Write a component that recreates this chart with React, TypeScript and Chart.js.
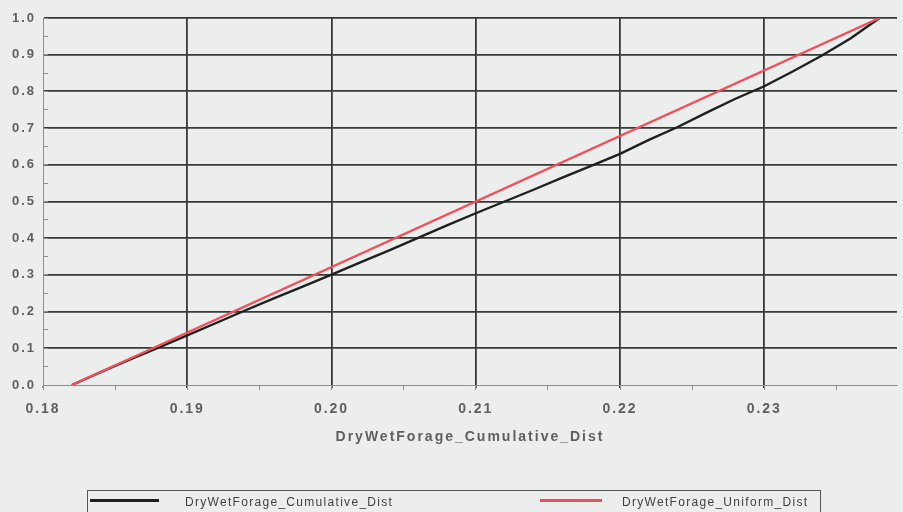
import React, { useEffect, useRef } from "react";
import { Chart, registerables } from "chart.js";

Chart.register(...registerables);

// ---- data ----
const cumulativeX = [
  0.182, 0.184, 0.186, 0.188, 0.19, 0.192, 0.194, 0.196, 0.198, 0.2, 0.202, 0.204, 0.206,
  0.208, 0.21, 0.212, 0.214, 0.216, 0.218, 0.22, 0.222, 0.224, 0.226, 0.228, 0.23, 0.232,
  0.234, 0.236, 0.237, 0.238,
];
const cumulativeY = [
  0, 0.035, 0.069, 0.102, 0.135, 0.169, 0.203, 0.236, 0.268, 0.301, 0.334, 0.367, 0.401,
  0.435, 0.468, 0.5, 0.532, 0.565, 0.597, 0.63, 0.668, 0.703, 0.742, 0.78, 0.814, 0.855,
  0.898, 0.945, 0.973, 1.0,
];
const uniformX = [0.182, 0.238];
const uniformY = [0, 1];

const xMin = 0.18;
const xMax = 0.2392;
const xStep = 0.01;
const xMinorStep = 0.005;
const yMin = 0;
const yMax = 1;
const yStep = 0.1;
const yMinorStep = 0.05;

const seriesNames = ["DryWetForage_Cumulative_Dist", "DryWetForage_Uniform_Dist"];
const xTitle = "DryWetForage_Cumulative_Dist";

const FONT = "'Liberation Sans', Arial, sans-serif";
const BG = "#eceeed";
const GRID = "#363a37";
const AXIS = "#8c8f8d";
const LABEL = "#5e605f";
const BLACK = "#1d211e";
const RED = "#f0505a";

const spacingPlugin = {
  id: "letterSpacing",
  beforeUpdate(chart: any) {
    (chart.ctx as any).letterSpacing = "2px";
  },
  beforeLayout(chart: any) {
    (chart.ctx as any).letterSpacing = "2px";
  },
  beforeDraw(chart: any) {
    (chart.ctx as any).letterSpacing = "2px";
  },
};

export default function App() {
  const ref = useRef<HTMLCanvasElement | null>(null);

  useEffect(() => {
    document.body.style.margin = "0";
    document.body.style.background = BG;
    const canvas = ref.current!;
    const chart = new Chart(canvas, {
      type: "line",
      data: {
        datasets: [
          {
            label: seriesNames[0],
            data: cumulativeX.map((x, i) => ({ x, y: cumulativeY[i] })),
            borderColor: BLACK,
            borderWidth: 2.4,
            pointRadius: 0,
            tension: 0,
            order: 1,
          },
          {
            label: seriesNames[1],
            data: uniformX.map((x, i) => ({ x, y: uniformY[i] })),
            borderColor: RED,
            borderWidth: 2.4,
            pointRadius: 0,
            tension: 0,
            order: 0,
          },
        ],
      },
      options: {
        animation: false,
        responsive: false,
        events: [],
        layout: { padding: { left: 0, top: 18, right: 6, bottom: 62 } },
        plugins: { legend: { display: false }, tooltip: { enabled: false } },
        scales: {
          x: {
            type: "linear",
            position: "bottom",
            weight: 1,
            min: xMin,
            max: xMax,
            afterFit: (s: any) => {
              s.height = 65;
            },
            ticks: {
              stepSize: xStep,
              includeBounds: false,
              autoSkip: false,
              maxRotation: 0,
              padding: 13,
              color: LABEL,
              font: { family: FONT, size: 14, weight: "bold" },
              callback: (v: any) => Number(v).toFixed(2),
            },
            grid: {
              color: (c: any) => (c.index === 0 ? "rgba(0,0,0,0)" : GRID),
              lineWidth: 1.8,
              tickLength: 3,
              tickColor: (c: any) => (c.index === 0 ? AXIS : GRID),
            },
            border: { display: true, color: AXIS, width: 1 },
            title: {
              display: true,
              text: xTitle,
              color: LABEL,
              font: { family: FONT, size: 14, weight: "bold" },
              padding: { top: 0, bottom: 4 },
            },
          },
          x2: {
            type: "linear",
            position: "bottom",
            weight: 0,
            min: xMin,
            max: xMax,
            afterFit: (s: any) => {
              s.height = 0;
            },
            ticks: { stepSize: xMinorStep, includeBounds: false, autoSkip: false, display: false },
            grid: { drawOnChartArea: false, tickLength: 5, tickColor: AXIS, lineWidth: 1 },
            border: { display: false },
          },
          y: {
            type: "linear",
            position: "left",
            weight: 1,
            min: yMin,
            max: yMax,
            afterFit: (s: any) => {
              s.width = 43;
            },
            ticks: {
              stepSize: yStep,
              autoSkip: false,
              padding: 7,
              color: LABEL,
              font: { family: FONT, size: 13, weight: "bold" },
              callback: (v: any) => Number(v).toFixed(1),
            },
            grid: {
              color: (c: any) => (c.index === 0 ? "rgba(0,0,0,0)" : GRID),
              lineWidth: 1.8,
              drawTicks: false,
            },
            border: { display: true, color: AXIS, width: 1 },
          },
          y2: {
            type: "linear",
            position: "left",
            weight: 0,
            min: yMin,
            max: yMax,
            afterFit: (s: any) => {
              s.width = 0;
            },
            ticks: { stepSize: yMinorStep, autoSkip: false, display: false },
            grid: { drawOnChartArea: false, tickLength: -5, tickColor: AXIS, lineWidth: 1 },
            border: { display: false },
          },
        },
      },
      plugins: [spacingPlugin],
    });
    return () => chart.destroy();
  }, []);

  const legendText: React.CSSProperties = {
    position: "absolute",
    top: 3,
    fontFamily: FONT,
    fontSize: 12,
    letterSpacing: "1.3px",
    color: "#3e403f",
    lineHeight: "16px",
    whiteSpace: "nowrap",
  };

  return (
    <div
      style={{
        position: "absolute",
        left: 0,
        top: 0,
        width: 903,
        height: 512,
        background: BG,
        overflow: "hidden",
      }}
    >
      <canvas ref={ref} width={903} height={512} style={{ display: "block" }} />
      <div
        style={{
          position: "absolute",
          left: 87,
          top: 490,
          width: 734,
          height: 30,
          border: "1px solid #555",
          boxSizing: "border-box",
        }}
      >
        <div style={{ position: "absolute", left: 2, top: 8, width: 69, height: 3, background: BLACK }} />
        <div style={{ ...legendText, left: 97 }}>{seriesNames[0]}</div>
        <div style={{ position: "absolute", left: 452, top: 8, width: 62, height: 3, background: RED }} />
        <div style={{ ...legendText, left: 534 }}>{seriesNames[1]}</div>
      </div>
    </div>
  );
}
